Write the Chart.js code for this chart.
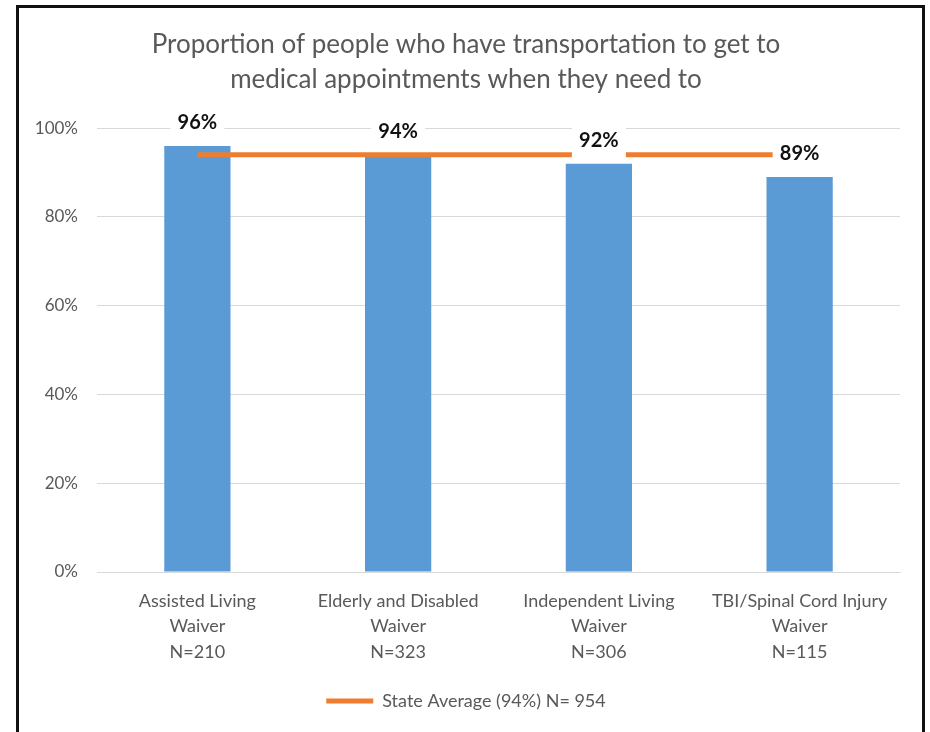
<!DOCTYPE html>
<html>
<head>
<meta charset="utf-8">
<title>Transportation to medical appointments</title>
<script src="https://cdn.jsdelivr.net/npm/chart.js@4"></script>
<style>
  html, body { margin: 0; padding: 0; background: #fff; overflow: hidden; }
  #frame {
    position: absolute; left: 16px; top: 5px;
    width: 903px; height: 800px;
    border: 3px solid #111; background: #fff;
  }
  #wrap { position: absolute; left: 0; top: 0; width: 930px; height: 732px; }
</style>
</head>
<body>
<div id="frame"></div>
<div id="wrap"><canvas id="chart" width="930" height="732"></canvas></div>
<script>
// waiver programs, each label split over three lines
const categories = [
  ["Assisted Living", "Waiver", "N=210"],
  ["Elderly and Disabled", "Waiver", "N=323"],
  ["Independent Living", "Waiver", "N=306"],
  ["TBI/Spinal Cord Injury", "Waiver", "N=115"]
];
// percent with transportation, per waiver
const waiverValues = [96, 94, 92, 89];
// state-wide average, drawn across all waivers
const stateAverage = 94;
const stateAverageLabel = "State Average (94%) N= 954";
const titleLines = [
  "Proportion of people who have transportation to get to",
  "medical appointments when they need to"
];

const fontFamily = "Lato, 'Open Sans', sans-serif";
const greyText = "#595959";

//draw "96%" etc above the bars, on a white box so the line gets covered
const barLabels = {
  id: "barLabels",
  afterDatasetsDraw(chart) {
    const ctx = chart.ctx;
    const meta = chart.getDatasetMeta(0);
    ctx.save();
    ctx.font = "bold 20px " + fontFamily;
    ctx.textAlign = "center";
    ctx.textBaseline = "middle";
    meta.data.forEach((bar, i) => {
      const cx = bar.x;
      const cy = bar.y - 24;
      ctx.fillStyle = "#ffffff";
      ctx.fillRect(cx - 27, cy - 19, 54, 38);
      ctx.fillStyle = "#111111";
      ctx.fillText(waiverValues[i] + "%", cx, cy + 1);
    });
    ctx.restore();
  }
};

const ctx = document.getElementById("chart");
new Chart(ctx, {
  data: {
    labels: categories,
    datasets: [
      {
        type: "bar",
        label: "Waiver",
        data: waiverValues,
        backgroundColor: "#5B9BD5",
        barPercentage: 0.33,
        categoryPercentage: 1,
        order: 2
      },
      {
        type: "line",
        label: stateAverageLabel,
        data: categories.map(() => stateAverage),
        borderColor: "#ED7D31",
        backgroundColor: "#ED7D31",
        borderWidth: 5,
        pointRadius: 0,
        pointStyle: "line",
        order: 1
      }
    ]
  },
  plugins: [barLabels],
  options: {
    responsive: false,
    animation: false,
    layout: { padding: { left: 32, right: 30, top: 0, bottom: 12 } },
    scales: {
      x: {
        grid: { display: false, drawTicks: false },
        border: { color: "#d9d9d9" },
        ticks: {
          color: greyText,
          padding: 16,
          maxRotation: 0,
          autoSkip: false,
          font: { family: fontFamily, size: 18, lineHeight: 1.42 }
        },
        afterFit: (scale) => { scale.height = 110; }
      },
      y: {
        min: 0,
        max: 100,
        grid: { color: "#d9d9d9", drawTicks: false },
        border: { display: false },
        ticks: {
          stepSize: 20,
          padding: 19,
          color: greyText,
          font: { family: fontFamily, size: 17 },
          callback: (v) => v + "%"
        },
        afterFit: (scale) => { scale.width = 65; }
      }
    },
    plugins: {
      tooltip: { enabled: false },
      title: {
        display: true,
        text: titleLines,
        color: greyText,
        font: { family: fontFamily, size: 26, weight: "normal", lineHeight: 1.35 },
        padding: { top: 27, bottom: 31 }
      },
      legend: {
        position: "bottom",
        labels: {
          filter: (item) => item.datasetIndex === 1,
          usePointStyle: true,
          pointStyle: "line",
          pointStyleWidth: 47,
          color: greyText,
          padding: 10,
          font: { family: fontFamily, size: 18 }
        }
      }
    }
  }
});
</script>
</body>
</html>
